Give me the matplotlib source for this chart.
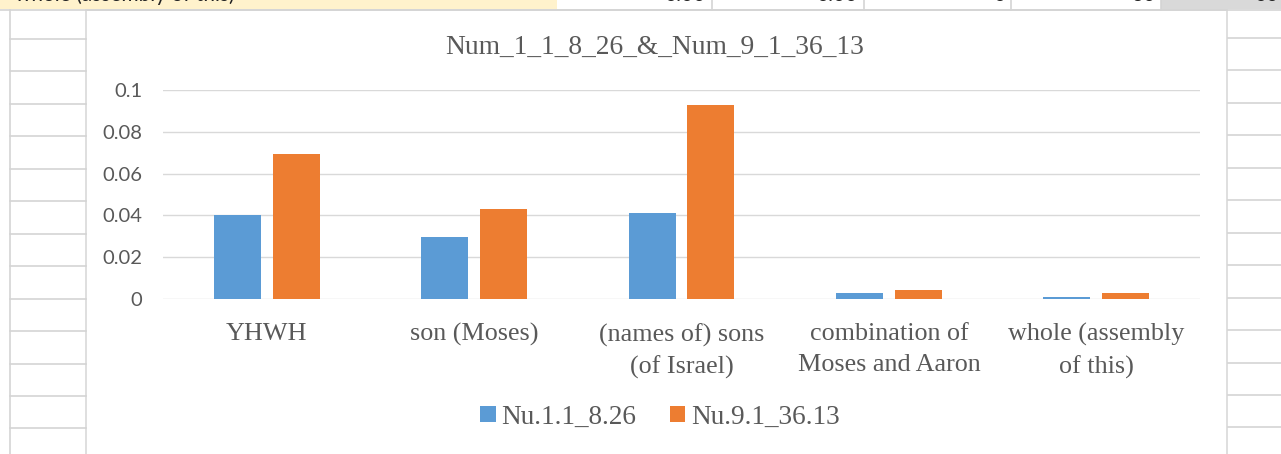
import matplotlib
matplotlib.use("Agg")
import matplotlib.pyplot as plt
from matplotlib.patches import Rectangle
from matplotlib.ticker import FuncFormatter
import numpy as np

# ---- data ----
categories = [
    "YHWH",
    "son (Moses)",
    "(names of) sons\n(of Israel)",
    "combination of\nMoses and Aaron",
    "whole (assembly\nof this)",
]
series_names = ["Nu.1.1_8.26", "Nu.9.1_36.13"]
nu_1_1_8_26 = [0.040, 0.0295, 0.041, 0.0027, 0.0010]
nu_9_1_36_13 = [0.0695, 0.0432, 0.0928, 0.0045, 0.0027]
y_ticks = [0, 0.02, 0.04, 0.06, 0.08, 0.1]
title = "Num_1_1_8_26_&_Num_9_1_36_13"

W, H = 1281, 454
BLUE = "#5B9BD5"
ORANGE = "#ED7D31"
TEXT = "#595959"
GRID = "#D9D9D9"
CELL = "#D4D4D4"

fig = plt.figure(figsize=(W / 100, H / 100), dpi=100)
fig.patch.set_facecolor("white")

# pixel-space layer for the worksheet around the chart
bg = fig.add_axes([0, 0, 1, 1], zorder=0)
bg.set_xlim(0, W)
bg.set_ylim(H, 0)
bg.axis("off")

# top row of cells
bg.add_patch(Rectangle((0, 0), 557, 9, facecolor="#FFF2CC", edgecolor="none"))
bg.add_patch(Rectangle((1161, 0), W - 1161, 9, facecolor="#D9D9D9", edgecolor="none"))
bg.plot([0, W], [9.5, 9.5], color=CELL, lw=1.2)
for x in [712, 864, 1011, 1161]:
    bg.plot([x, x], [0, 9.5], color=CELL, lw=1.2)
bg.text(15, 1, "whole (assembly of this)", fontfamily="Lato", fontsize=15,
        color="#222222", va="baseline", ha="left", clip_on=True)
for x, s in [(706, "0.00"), (858, "0.00"), (1005, "0"), (1155, "30"), (1279, "00")]:
    bg.text(x, 1, s, fontfamily="Lato", fontsize=15, color="#222222",
            va="baseline", ha="right", clip_on=True)

# row lines left and right of the chart
row_y = 39 + 32.45 * np.arange(13)
for y in row_y:
    bg.plot([10, 86], [y, y], color=CELL, lw=1.2)
    bg.plot([1228, W], [y - 1, y - 1], color=CELL, lw=1.2)
bg.plot([10, 10], [9.5, H], color=CELL, lw=1.2)

# chart area
bg.add_patch(Rectangle((86, 10), 1227 - 86, H, facecolor="white",
                       edgecolor=GRID, lw=1.2))
bg.text(655, 47, title, fontfamily="Liberation Serif", fontsize=19.8,
        color=TEXT, ha="center", va="center")

# ---- plot area ----
left = 163 / W
right = 1200 / W
bottom = (H - 299) / H
top = (H - 90) / H
ax = fig.add_axes([left, bottom, right - left, top - bottom], zorder=1)
ax.patch.set_visible(False)

x = np.arange(len(categories))
bw = 0.227
off = 0.142
b1 = ax.bar(x - off, nu_1_1_8_26, bw, color=BLUE, label=series_names[0], zorder=3)
b2 = ax.bar(x + off, nu_9_1_36_13, bw, color=ORANGE, label=series_names[1], zorder=3)

ax.set_xlim(-0.5, len(categories) - 0.5)
ax.set_ylim(0, 0.1)
ax.set_yticks(y_ticks)
ax.yaxis.set_major_formatter(FuncFormatter(lambda v, p: "0" if v == 0 else f"{v:g}"))
ax.grid(axis="y", color=GRID, lw=1.0, zorder=0)
ax.set_axisbelow(True)
for s in ax.spines.values():
    s.set_visible(False)
ax.tick_params(axis="both", length=0)
ax.tick_params(axis="y", pad=15, labelcolor=TEXT)
for lbl in ax.get_yticklabels():
    lbl.set_fontfamily("Lato")
    lbl.set_fontsize(14.5)

ax.set_xticks(x)
ax.set_xticklabels(categories, fontfamily="Liberation Serif", fontsize=18.8,
                   color=TEXT, linespacing=1.5)
ax.tick_params(axis="x", pad=17.5)

leg = fig.legend(handles=[b1, b2], loc="center", bbox_to_anchor=(660 / W, (H - 417) / H),
                 ncol=2, frameon=False, handlelength=0.56, handleheight=0.56,
                 handletextpad=0.2, columnspacing=1.25,
                 prop={"family": "Liberation Serif", "size": 19.6})
for t in leg.get_texts():
    t.set_color(TEXT)

fig.savefig("out.png", dpi=100)
